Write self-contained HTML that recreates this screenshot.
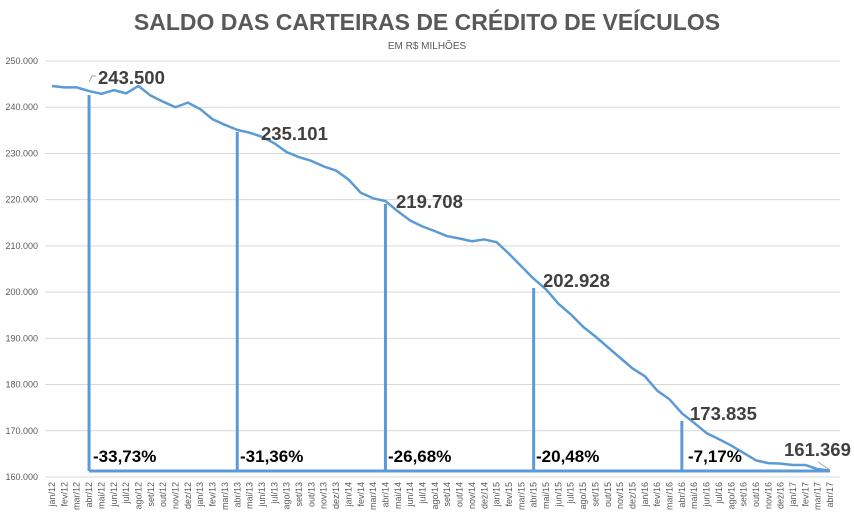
<!DOCTYPE html>
<html><head><meta charset="utf-8"><style>
body{margin:0;background:#fff;}
svg{display:block;font-family:"Liberation Sans",sans-serif;}
</style></head><body>
<svg id="c" width="854" height="523" xmlns="http://www.w3.org/2000/svg">
<text x="427" y="30" text-anchor="middle" font-size="23" font-weight="bold" fill="#595959">SALDO DAS CARTEIRAS DE CRÉDITO DE VEÍCULOS</text>
<text x="427" y="49" text-anchor="middle" font-size="10" fill="#595959">EM R$ MILHÕES</text>
<g id="g"></g>
</svg>
<script>
var d=[244.6,244.3,244.3,243.5,242.9,243.7,243.0,244.6,242.5,241.2,240.0,241.0,239.6,237.4,236.2,235.1,234.5,233.6,232.2,230.3,229.2,228.4,227.2,226.3,224.4,221.5,220.3,219.7,217.5,215.5,214.2,213.2,212.1,211.6,211.0,211.4,210.8,208.3,205.6,202.9,200.6,197.5,195.2,192.5,190.4,188.1,185.8,183.5,181.8,178.7,176.8,173.8,171.7,169.5,168.2,166.8,165.2,163.6,163.0,162.9,162.6,162.6,161.7,161.4];
var m=["jan","fev","mar","abr","mai","jun","jul","ago","set","out","nov","dez"];
function X(i){return 52+12.35*i}
function Y(v){return 477-(v-160)*4.622}
var s="";
for(var k=0;k<10;k++){var v=160+k*10,y=Y(v);
s+='<line x1="45" x2="840" y1="'+y+'" y2="'+y+'" stroke="#d9d9d9" stroke-width="1"/>';
s+='<text x="38" y="'+(y+3)+'" text-anchor="end" font-size="9" fill="#595959">'+v+'.000</text>';}
for(var i=0;i<64;i++){var yr=12+Math.floor(i/12);var t=m[i%12]+"/"+yr;
s+='<text transform="translate('+(X(i)+3)+',482) rotate(-90)" text-anchor="end" font-size="9" fill="#595959">'+t+'</text>';}
s+='<line x1="89" x2="830" y1="471" y2="471" stroke="#5b9bd5" stroke-width="3"/>';
var bars=[[3,95],[15,132],[27,204],[39,288],[51,421]];
bars.forEach(function(b){s+='<line x1="'+X(b[0])+'" x2="'+X(b[0])+'" y1="'+b[1]+'" y2="471" stroke="#5b9bd5" stroke-width="3"/>';});
var p=d.map(function(v,i){return X(i)+","+Y(v)}).join(" ");
s+='<polyline points="'+p+'" fill="none" stroke="#5b9bd5" stroke-width="2.5" stroke-linejoin="round"/>';
var lab=[[98,84,"243.500"],[261,140,"235.101"],[396,208,"219.708"],[543,287,"202.928"],[690,420,"173.835"],[784,456,"161.369"]];
lab.forEach(function(l){s+='<text x="'+l[0]+'" y="'+l[1]+'" font-size="18.5" font-weight="bold" fill="#404040">'+l[2]+'</text>';});
var pc=[[93,"-33,73%"],[240,"-31,36%"],[388,"-26,68%"],[536,"-20,48%"],[688,"-7,17%"]];
pc.forEach(function(l){s+='<text x="'+l[0]+'" y="462" font-size="17" font-weight="bold" fill="#000">'+l[1]+'</text>';});
s+='<polyline points="89,82 92,76 96,76" fill="none" stroke="#a6a6a6" stroke-width="1"/>';
s+='<line x1="818" y1="462" x2="830" y2="470" stroke="#a6a6a6" stroke-width="1"/>';
document.getElementById("g").innerHTML=s;
</script>
</body></html>
